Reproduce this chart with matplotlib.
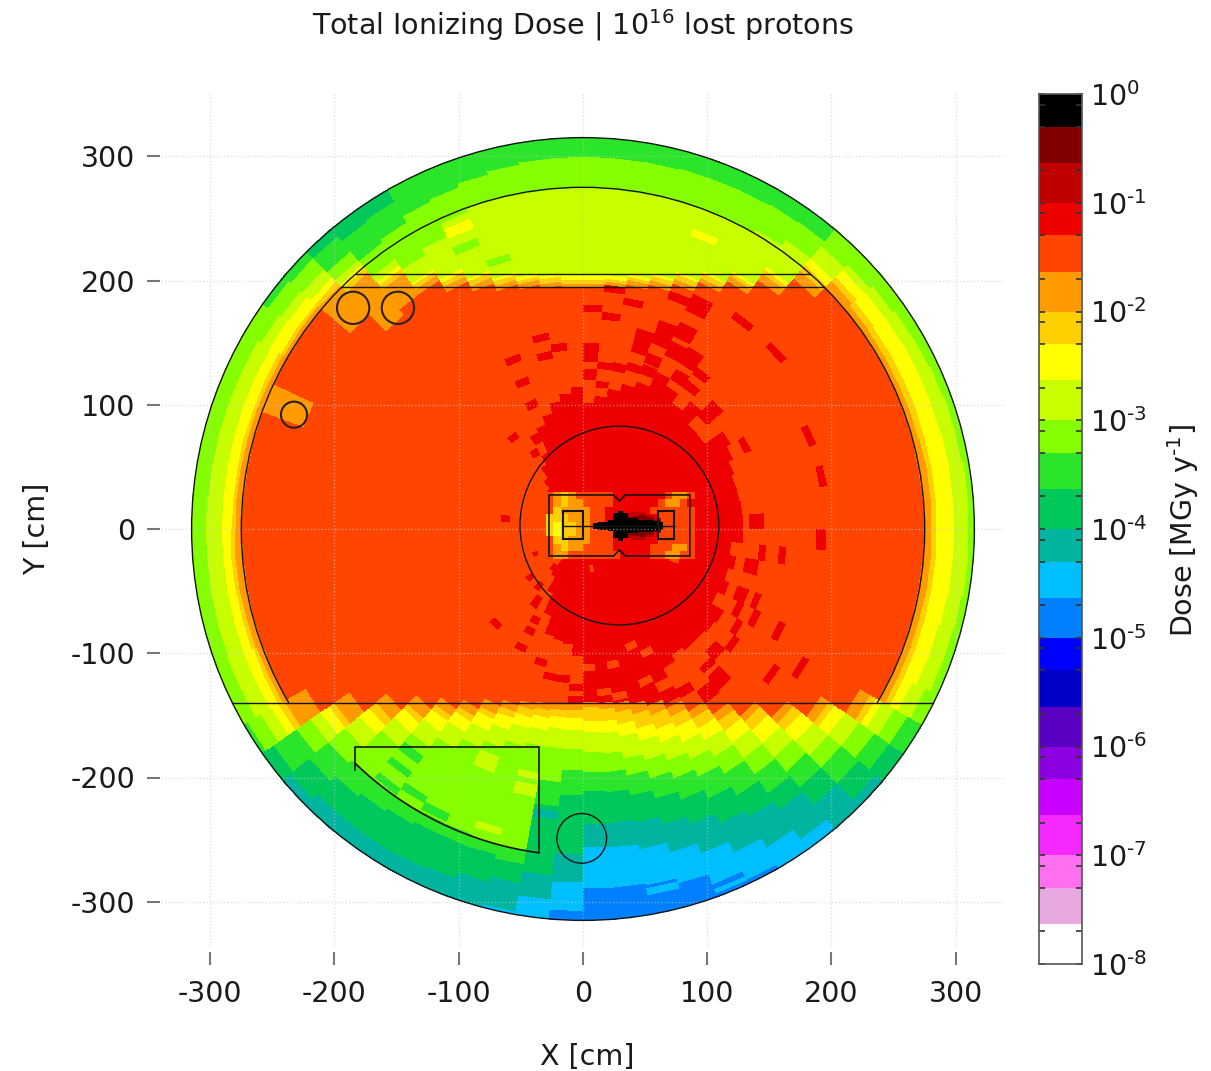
import numpy as np
import matplotlib
matplotlib.use('Agg')
import matplotlib.pyplot as plt
from matplotlib.colors import ListedColormap, BoundaryNorm
from matplotlib.patches import Circle, Arc, Polygon, Rectangle

W, H = 1211, 1071
PX = 1.2425
X0, Y0 = 583, 529

# colour scale: one decade = three bands
band_colors = ['#ffffff', '#e8a8e0', '#ff70f0', '#f528ff', '#c800ff', '#8b00e0', '#5a00c0', '#0000c8',
               '#0000ff', '#0080ff', '#00bfff', '#00b4a0', '#00c85a', '#2ae52a', '#85ff00', '#c8ff00',
               '#ffff00', '#ffd000', '#ff9a00', '#ff4500', '#ee0000', '#c00000', '#800000', '#000000']
band_edges = [m * 10.0 ** e for e in range(-8, 0) for m in (1, 2.33, 5)] + [1.0]
cbar_major = [1e-8, 1e-7, 1e-6, 1e-5, 1e-4, 1e-3, 1e-2, 1e-1, 1e0]
cbar_exp = ['-8', '-7', '-6', '-5', '-4', '-3', '-2', '-1', '0']
cbar_minor = [m * 10.0 ** e for e in range(-8, 0) for m in (2, 5, 8)]

x_ticks = [-300, -200, -100, 0, 100, 200, 300]
y_ticks = [-300, -200, -100, 0, 100, 200, 300]

# outer radius (cm) of each band in each 5 degree sector, going from band 19 to lower doses
sector_first_band = 19
sector_runs = [
 [275,281,285,299,311,315],[275,281,285,299,311,315],[275,281,285,299,310,315],[275,280,285,298,310,315],
 [275,280,285,298,309,315],[275,280,285,298,308,315],[275,280,285,297,307,315],[275,281,286,297,305,315],
 [275,283,288,296,302,315],[264,272,278,285,298,315],[246,252,255,258,285,303,315],[231,236,239,241,279,302,315],
 [220,224,228,230,276,301,315],[211,215,219,221,276,301,315],[204,208,212,214,275,301,315],[200,204,207,209,275,300,315],
 [197,200,203,206,275,300,315],[195,198,201,205,275,300,315],[195,198,201,205,275,300,315],[197,200,204,207,275,300,315],
 [200,204,207,210,275,298,315],[204,208,212,214,275,296,315],[211,216,220,222,272,293,315],[220,225,229,232,260,291,315],
 [231,236,240,242,255,285,305,315],[246,252,256,259,265,282,303,315],[264,270,274,278,283,292,308,315],[275,278,282,287,296,308,315],
 [275,279,282,291,298,310,315],[275,279,282,292,300,315],[275,280,283,291,303,315],[275,280,283,291,303,315],
 [275,280,283,291,303,315],[275,280,283,291,303,315],[275,280,283,291,303,315],[275,280,283,291,304,315],
 [275,281,284,291,304,315],[275,281,284,291,304,315],[275,281,284,291,304,315],[275,281,284,291,304,315],
 [275,280,283,291,305,315],[275,280,283,291,305,315],[258,278,283,290,300,312,315],[230,245,250,258,268,282,305,315],
 [207,218,225,235,250,268,288,308,315],[190,200,205,215,230,264,282,303,315],[178,185,190,200,215,263,278,303,315],[168,175,180,190,205,263,275,303,315],
 [158,165,170,180,195,262,272,302,315],[152,158,163,173,188,262,272,300,315],[147,152,158,167,182,263,272,295,315],[144,149,155,165,178,263,275,290,313,315],
 [142,147,153,162,178,205,225,280,300,315],[141,146,153,162,178,195,215,262,285,308,315],[140,144,155,164,180,196,212,238,257,290,315],[141,146,156,166,182,197,213,238,258,290,315],
 [143,150,160,170,188,202,218,240,262,292,315],[147,155,167,177,193,208,225,247,270,296,315],[152,160,172,183,199,214,232,253,278,305,315],[160,167,177,190,205,220,240,262,288,312,315],
 [170,177,186,197,212,228,248,268,296,315],[183,190,199,210,226,242,260,276,306,315],[197,203,212,225,240,255,272,290,315],[215,222,230,243,258,272,290,308,315],
 [235,243,248,258,272,287,302,315],[258,268,273,279,290,302,315],[275,281,285,293,305,315],[275,281,285,297,309,315],
 [275,281,285,297,309,315],[275,281,285,298,310,315],[275,281,285,299,311,315],[275,281,285,299,311,315],
]

# main red body: radius from the origin per sector
red_body = [129,129,128,128,130,134,138,120,120,135,125,134,130,127,122,115,108,102,100,103,105,97,90,68,
            60,50,42,30,0,0,0,0,0,0,0,0,0,0,0,0,0,0,0,0,0,0,0,45,58,75,90,92,94,103,
            140,141,143,147,152,138,130,125,128,128,130,132,120,126,122,126,120,129]

# isolated cells: sector, inner radius, outer radius, band
cell_sector = [10,8,4,2,71,70,70,67,66,66,64,65,66,65,64,69,0,67,62,63,62,61,60,59,
               45,48,48,48,47,50,51,52,53,53,44,46,46,41,49,50,
               20,19,20,22,22,22,25,23,24,34,17,17,17,16,15,12,14,13,12,12,11,11,10,10,13,11,12,15,14,13,16,16,18,19,5,16,13,8,
               58,59,56,54,58,55,56,59,68,56,
               27,26,25,31,
               22,22,21,13,46,46,46,47,48,49,51,51,50,52,56,58]
cell_r0 =     [208,208,194,194,188,159,143,148,153,175,189,205,138,144,149,133,134,133,146,140,156,160,150,146,
               101,105,90,80,65,110,119,119,125,135,55,55,36,41,43,30,
               155,145,140,145,125,105,90,78,70,60,135,120,175,170,184,195,148,160,172,155,155,140,153,140,143,140,130,130,133,134,130,115,100,103,144,192,198,130,
               99,109,109,109,130,130,135,138,74,30,
               245,225,231,240,
               258,243,224,252,224,240,256,250,254,196,200,210,250,229,294,309]
cell_r1 =     [214,214,200,200,196,165,149,154,159,181,195,211,144,150,155,145,146,143,152,150,170,172,158,156,
               107,111,96,86,75,116,125,125,131,141,61,62,42,46,48,36,
               161,151,146,151,131,112,96,86,76,67,150,129,181,176,190,210,168,180,185,168,170,150,160,147,152,150,140,137,140,142,136,120,115,110,150,198,205,148,
               105,115,115,115,136,136,141,144,82,36,
               275,264,246,275,
               266,250,230,258,232,246,262,256,261,210,206,220,256,235,300,313]
cell_band =   [20]*40 + [20]*38 + [19]*10 + [18]*4 + [16,14,14,16,13,13,13,13,13,15,15,15,15,11,10,10]

# device interior, cells of 6 cm
inner_x = [-36,-30,-24,-18,-12,-6,0,6,12,18,24,30,36,42,48,54,60,66,72,78,84,90]
inner_y = [30,24,18,12,6,0,-6,-12,-18,-24]
inner_rows = [
 [19,19,18,17,18,19,19,19,19,19,20,20,20,20,20,20,20,19,18,18,19],
 [19,19,18,17,18,18,19,19,19,19,20,20,20,20,20,20,19,18,18,19,20],
 [19,19,17,18,18,18,18,19,19,20,20,20,20,20,20,19,19,19,19,19,19],
 [19,17,17,17,18,18,18,19,19,20,20,20,20,20,20,20,19,19,19,19,19],
 [19,17,16,17,17,18,18,19,19,20,20,20,20,20,20,20,19,19,19,19,19],
 [19,17,16,17,17,18,18,19,19,19,20,20,20,20,20,20,19,19,19,19,19],
 [19,19,17,17,18,18,18,19,19,19,20,20,20,20,20,20,19,19,19,19,19],
 [19,19,18,17,18,18,19,19,19,19,20,20,20,20,20,19,19,19,18,18,19],
 [19,19,18,18,19,19,19,19,19,19,19,20,20,20,20,19,19,18,18,19,19],
]

# beam core: x centre, half height, per dose band
halo_x = [36,42,48,54,60]
halo_h = [10,11,11,9,6]
dark_x = [36,42,48,54,60]
dark_h = [7,8,9,7,5]
core_x = [10,14,18,22,26,30,34,38,42,46,50,54,58,62]
core_h = [2.5,3,3.5,4.5,10,12,10,6,6,5,5,5,4,3]
core_w = 4
core_y = 2.5

# geometry
outer_r = 315
wall_r = 275
chords_y = [205, 195]
chords_x0 = [-183, -194]
chords_x1 = [183, 194]
floor_y = -140
floor_x = [-282.5, 281.5]
ring = (29.3, 2.8, 80)
small_circles = [(-185, 178, 13), (-149, 178, 13), (-232.6, 92, 10.5)]
pit_circle = (-1, -249, 20)
box_xs = [-27.4, 24.6, 29.3, 34, 86, 86, 34, 29.3, 24.6, -27.4]
box_ys = [27.4, 27.4, 22.6, 27.4, 27.4, -21.7, -21.7, -17, -21.7, -21.7]
racks = [(-15.8, 14.7, -8.3, -0.2), (60, 14.7, -8.3, 73.5)]
wedge_x = [-35.4, -35.4, -183.5, -183.5]
wedge_y = [-261, -175.5, -175.5, -194]
wedge_r = 263

# --------------------------------------------------------------
plt.rcParams['font.family'] = 'DejaVu Sans'
plt.rcParams['axes.unicode_minus'] = False
FS = 20.5
fig = plt.figure(figsize=(W / 100, H / 100), dpi=100)
ax = fig.add_axes([147 / W, 1 - 965 / H, 872 / W, 871 / H])
ax.set_xlim((147 - X0) / PX, (1019 - X0) / PX)
ax.set_ylim((Y0 - 965) / PX, (Y0 - 94) / PX)
for s in ax.spines.values():
    s.set_visible(False)

edges = np.array(band_edges)
dose = np.sqrt(edges[:-1] * edges[1:])
cmap = ListedColormap(band_colors)
norm = BoundaryNorm(band_edges, cmap.N)

n_sec = len(sector_runs)
r_e = np.arange(0, outer_r + 1)
t_e = np.radians(np.arange(n_sec + 1) * 360.0 / n_sec)
T, R = np.meshgrid(t_e, r_e, indexing='ij')
Z = np.zeros((n_sec, len(r_e) - 1))
for i, runs in enumerate(sector_runs):
    start = 0
    for k, stop in enumerate(runs):
        Z[i, start:stop] = dose[sector_first_band - k]
        start = stop
    Z[i, :red_body[i]] = dose[20]
for s, a, b, c in zip(cell_sector, cell_r0, cell_r1, cell_band):
    Z[s, a:b] = dose[c]
ax.pcolormesh(R * np.cos(T), R * np.sin(T), Z, cmap=cmap, norm=norm, shading='flat', antialiased=False,
              linewidth=0, zorder=1)

inner = np.array([[dose[b] for b in row] for row in inner_rows])
ax.pcolormesh(inner_x, inner_y, inner, cmap=cmap, norm=norm, shading='flat', zorder=2)
ax.bar(halo_x, 2 * np.array(halo_h), bottom=core_y - np.array(halo_h), width=6, color=band_colors[21], zorder=3)
ax.bar(dark_x, 2 * np.array(dark_h), bottom=core_y - np.array(dark_h), width=6, color=band_colors[22], zorder=3)
ax.bar(core_x, 2 * np.array(core_h), bottom=core_y - np.array(core_h), width=core_w, color=band_colors[23], zorder=4)

# grid
gk = dict(color='#c8c8c8', lw=1.0, ls=(0, (1, 1.5)), alpha=0.55, zorder=5)
ax.hlines(y_ticks, -340, 340, **gk)
ax.vlines(x_ticks, -336, 351, **gk)

# outlines
lk = dict(fill=False, ec='#141414', lw=1.0, zorder=6)
ax.add_patch(Circle((0, 0), outer_r, **lk))
ax.add_patch(Arc((0, 0), 2 * wall_r, 2 * wall_r, theta1=-30.6, theta2=210.6, ec='#141414', lw=1.0, zorder=6))
for y, a, b in zip(chords_y, chords_x0, chords_x1):
    ax.plot([a, b], [y, y], color='#141414', lw=1.0, zorder=6)
ax.plot(floor_x, [floor_y, floor_y], color='#141414', lw=1.0, zorder=6)
ax.add_patch(Circle(ring[:2], ring[2], **lk))
for cx, cy, cr in small_circles:
    ax.add_patch(Circle((cx, cy), cr, fill=False, ec='#2a2020', lw=1.5, zorder=6))
ax.add_patch(Circle(pit_circle[:2], pit_circle[2], **lk))
ax.add_patch(Polygon(np.column_stack([box_xs, box_ys]), closed=True, fill=False, ec='#141414', lw=1.2, zorder=6))
for x0, y1, y0, x1 in racks:
    ax.add_patch(Rectangle((x0, y0), x1 - x0, y1 - y0, fill=False, ec='#141414', lw=1.5, zorder=6))
ax.plot([racks[0][0], racks[1][3]], [core_y, core_y], color='#141414', lw=1.0, zorder=6)
ax.plot(wedge_x, wedge_y, color='#141414', lw=1.2, zorder=6)
ax.add_patch(Arc((0, 0), 2 * wedge_r, 2 * wedge_r, theta1=225.6, theta2=262.3, ec='#141414', lw=1.2, zorder=6))

ax.set_xticks(x_ticks)
ax.set_yticks(y_ticks)
ax.tick_params(axis='both', direction='in', length=9.4, width=1.5, color='#777777', labelsize=FS, labelcolor='#1a1a1a')
ax.tick_params(axis='x', pad=11)
ax.tick_params(axis='y', pad=8.6)

fig.text(583 / W, 1 - 25 / H, r'Total Ionizing Dose | 10$^{16}$ lost protons', ha='center', va='center',
         fontsize=FS, color='#1a1a1a')
fig.text(587 / W, 1 - 1057 / H, 'X [cm]', ha='center', va='center', fontsize=FS, color='#1a1a1a')
fig.text(37 / W, 1 - 529 / H, 'Y [cm]', rotation=90, ha='center', va='center', fontsize=FS, color='#1a1a1a')

# colour bar
cax = fig.add_axes([1039 / W, 1 - 964 / H, 43 / W, 870 / H])
cax.set_yscale('log')
cax.pcolormesh([0, 1], band_edges, np.array(dose).reshape(-1, 1), cmap=cmap, norm=norm, shading='flat')
cax.set_ylim(1e-8, 1)
cax.set_xticks([])
cax.yaxis.tick_left()
cax.set_yticks(cbar_major)
cax.set_yticks(cbar_minor, minor=True)
cax.set_yticklabels([])
cax.tick_params(axis='y', which='both', direction='in', left=True, right=True, length=4, width=1.2, color='#333333')
cax.set_yticklabels([], minor=True)
for s in cax.spines.values():
    s.set_color('#555555')
    s.set_linewidth(1.2)
for v, e in zip(cbar_major, cbar_exp):
    py = 964 - (np.log10(v) + 8) * 108.75
    fig.text(1090 / W, 1 - (py + 3) / H, '10$^{\\text{' + e + '}}$', ha='left', va='center', fontsize=FS, color='#1a1a1a')
fig.text(1183 / W, 1 - 530 / H, 'Dose [MGy y$^{\\text{-1}}$]', rotation=90, ha='center', va='center',
         fontsize=FS, color='#1a1a1a')

fig.savefig('out.png', dpi=100)
